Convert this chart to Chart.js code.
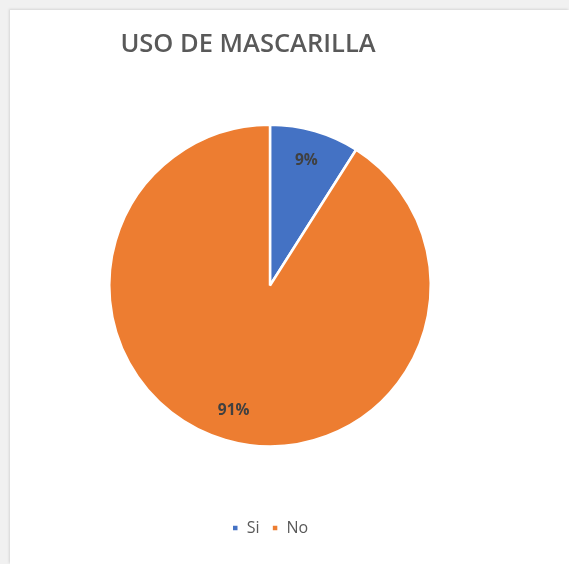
<!DOCTYPE html>
<html>
<head>
<meta charset="utf-8">
<script src="https://cdn.jsdelivr.net/npm/chart.js@4/dist/chart.umd.min.js"></script>
<style>
  html, body { margin: 0; padding: 0; }
  body { width: 569px; height: 564px; background: #f1f1f1; overflow: hidden; }
  #box {
    position: absolute; left: 10px; top: 10px; width: 559px; height: 554px;
    background: #fff; box-shadow: -1px -1px 2px #d6d6d6;
  }
</style>
</head>
<body>
<div id="box"><canvas id="c1" width="559" height="554"></canvas></div>
<script>
var titleText = "USO DE MASCARILLA";
var categories = ["Si", "No"];
var values = [9, 91];
var percentLabels = ["9%", "91%"];
var sliceColors = ["#4472C4", "#ED7D31"];

// titulo dibujado a mano para poder moverlo un poco a la izquierda del pastel
var titlePlugin = {
  id: "titleLeft",
  afterDraw: function(chart) {
    var ctx = chart.ctx;
    ctx.save();
    ctx.font = "600 25.5px 'Open Sans'";
    ctx.fillStyle = "#595959";
    ctx.textAlign = "center";
    ctx.textBaseline = "middle";
    ctx.fillText(titleText, 238, 35);
    ctx.restore();
  }
};

// porcentajes dentro de cada porcion
var labelPlugin = {
  id: "sliceLabels",
  afterDatasetsDraw: function(chart) {
    var ctx = chart.ctx;
    var meta = chart.getDatasetMeta(0);
    ctx.save();
    ctx.font = "bold 15.5px 'Open Sans'";
    ctx.fillStyle = "#404040";
    ctx.textAlign = "center";
    ctx.textBaseline = "middle";
    meta.data.forEach(function(arc, i) {
      var p = arc.getProps(["x", "y", "startAngle", "endAngle", "outerRadius"], true);
      var mid = (p.startAngle + p.endAngle) / 2;
      var r = p.outerRadius * 0.81;
      ctx.fillText(percentLabels[i], p.x + Math.cos(mid) * r, p.y + Math.sin(mid) * r);
    });
    ctx.restore();
  }
};

var ctx = document.getElementById("c1");
var myPieChart = new Chart(ctx, {
  type: "pie",
  data: {
    labels: categories,
    datasets: [
      {
        data: values,
        backgroundColor: sliceColors,
        borderColor: "#ffffff",
        borderWidth: 2.5
      }
    ]
  },
  options: {
    responsive: false,
    animation: false,
    layout: {
      padding: { left: 98, right: 137, top: 53, bottom: 18 }
    },
    plugins: {
      title: { display: false },
      tooltip: { enabled: false },
      legend: {
        position: "bottom",
        labels: {
          boxWidth: 7,
          boxHeight: 7,
          padding: 12,
          color: "#595959",
          font: { family: "'Open Sans'", size: 16 }
        }
      }
    }
  },
  plugins: [titlePlugin, labelPlugin]
});
</script>
</body>
</html>
